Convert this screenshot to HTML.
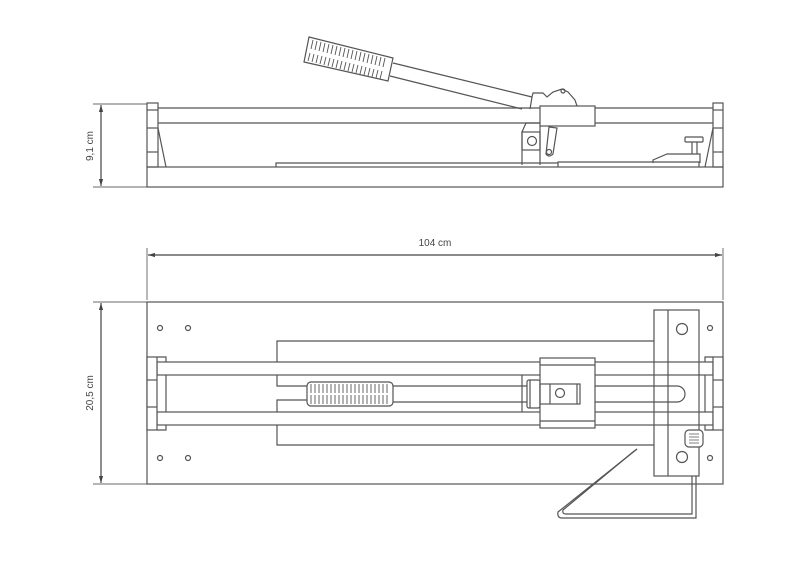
<!DOCTYPE html>
<html><head><meta charset="utf-8"><style>
html,body{margin:0;padding:0;background:#fff}
svg{display:block}
text{font-family:"Liberation Sans",sans-serif;fill:#444;font-size:10px}
</style></head><body>
<svg width="800" height="565" viewBox="0 0 800 565" xmlns="http://www.w3.org/2000/svg">
<defs>
<marker id="a" viewBox="0 0 10 10" refX="10" refY="5" markerWidth="6" markerHeight="6" orient="auto-start-reverse"><path d="M0,2 L10,5 L0,8 z" fill="#444"/></marker>
</defs>
<g fill="none" stroke="#555" stroke-width="1.2">
<line x1="93" y1="104" x2="147" y2="104" stroke="#888"/>
<line x1="93" y1="187" x2="147" y2="187" stroke="#888"/>
<line x1="101" y1="105" x2="101" y2="186" stroke="#444" marker-start="url(#a)" marker-end="url(#a)"/>
<rect x="147" y="167" width="576" height="20"/>
<line x1="158" y1="108" x2="713" y2="108"/>
<line x1="158" y1="123" x2="713" y2="123"/>
<rect x="147" y="103" width="11" height="64"/>
<line x1="147" y1="110" x2="158" y2="110"/>
<line x1="147" y1="128" x2="158" y2="128"/>
<line x1="147" y1="152" x2="158" y2="152"/>
<path d="M158,128 L166,167"/>
<rect x="713" y="103" width="10" height="64"/>
<line x1="713" y1="110" x2="723" y2="110"/>
<line x1="713" y1="128" x2="723" y2="128"/>
<line x1="713" y1="152" x2="723" y2="152"/>
<path d="M713,128 L705,167"/>
<path d="M276,167 L276,163 L558,163"/>
<path d="M558,167 L558,162 L699,162 L699,167"/>
<path d="M653,163 L653,160 L667,154 L700,154 L700,163"/>
<rect x="685" y="137" width="18" height="5" rx="1"/>
<path d="M692,142 L692,154 M697,142 L697,154"/>
<path d="M309,37 L393,58 L388,81 L304,62 Z"/>
<g stroke-width="0.9">
<path d="M313,40 L311,49 M317,41 L315,50 M321,42 L319,51 M325,43 L323,52 M329,44 L327,53 M333,45 L331,54 M337,46 L335,55 M341,47 L339,56 M345,48 L343,57 M349,49 L347,58 M353,50 L351,59 M357,51 L355,60 M361,52 L359,61 M365,53 L363,62 M369,54 L367,63 M373,55 L371,64 M377,56 L375,65 M381,57 L379,66 M385,58 L383,67"/>
<path d="M310,53 L308,61 M314,54 L312,62 M318,55 L316,63 M322,56 L320,64 M326,57 L324,65 M330,58 L328,66 M334,59 L332,67 M338,60 L336,68 M342,61 L340,69 M346,62 L344,70 M350,63 L348,71 M354,64 L352,72 M358,65 L356,73 M362,66 L360,74 M366,67 L364,75 M370,68 L368,76 M374,69 L372,77 M378,70 L376,78 M382,71 L380,79"/>
</g>
<line x1="393" y1="63" x2="532" y2="97"/>
<line x1="390" y1="76" x2="522" y2="109"/>
<path d="M530,109 L532,97 L533,93 L543,93 L547,97 L553,92 L562,89 L568,92 L575,100 L577,106"/>
<circle cx="563" cy="91" r="2"/>
<rect x="540" y="106" width="55" height="20" fill="#fff"/>
<path d="M522,165 L522,132 L526,123 L540,123"/>
<rect x="522" y="132" width="18" height="18"/>
<circle cx="532" cy="141" r="4.5"/>
<line x1="540" y1="126" x2="540" y2="165"/>
<path d="M549,127 L557,128 L553,154 Q549,158 546,154 Z"/>
<circle cx="549" cy="152" r="2.5"/>

<line x1="147" y1="248" x2="147" y2="300" stroke="#888"/>
<line x1="723" y1="248" x2="723" y2="300" stroke="#888"/>
<line x1="148" y1="255" x2="722" y2="255" stroke="#444" marker-start="url(#a)" marker-end="url(#a)"/>
<line x1="93" y1="302" x2="147" y2="302" stroke="#888"/>
<line x1="93" y1="484" x2="147" y2="484" stroke="#888"/>
<line x1="101" y1="303" x2="101" y2="483" stroke="#444" marker-start="url(#a)" marker-end="url(#a)"/>
<rect x="147" y="302" width="576" height="182"/>
<circle cx="160" cy="328" r="2.5"/><circle cx="188" cy="328" r="2.5"/>
<circle cx="160" cy="458" r="2.5"/><circle cx="188" cy="458" r="2.5"/>
<circle cx="710" cy="328" r="2.5"/><circle cx="710" cy="458" r="2.5"/>
<path d="M654,341 L277,341 L277,386 L307,386"/>
<path d="M307,400 L277,400 L277,445 L654,445"/>
<rect x="157" y="362" width="556" height="13" fill="#fff"/>
<rect x="157" y="412" width="556" height="13" fill="#fff"/>
<line x1="166" y1="375" x2="166" y2="412"/>
<line x1="705" y1="375" x2="705" y2="412"/>
<rect x="147" y="357" width="10" height="73" fill="#fff"/>
<line x1="147" y1="380" x2="157" y2="380"/><line x1="147" y1="407" x2="157" y2="407"/>
<path d="M157,357 L166,357 L166,362 M157,430 L166,430 L166,425"/>
<rect x="713" y="357" width="10" height="73" fill="#fff"/>
<line x1="713" y1="380" x2="723" y2="380"/><line x1="713" y1="407" x2="723" y2="407"/>
<path d="M713,357 L705,357 L705,362 M713,430 L705,430 L705,425"/>
<path d="M393,386 L677,386 A8,8 0 0 1 677,402 L393,402"/>
<rect x="307" y="382" width="86" height="24" rx="4" fill="#fff"/>
<g stroke-width="0.9">
<path d="M311,384v9M315,384v9M319,384v9M323,384v9M327,384v9M331,384v9M335,384v9M339,384v9M343,384v9M347,384v9M351,384v9M355,384v9M359,384v9M363,384v9M367,384v9M371,384v9M375,384v9M379,384v9M383,384v9M387,384v9"/>
<path d="M311,395v9M315,395v9M319,395v9M323,395v9M327,395v9M331,395v9M335,395v9M339,395v9M343,395v9M347,395v9M351,395v9M355,395v9M359,395v9M363,395v9M367,395v9M371,395v9M375,395v9M379,395v9M383,395v9M387,395v9"/>
</g>
<path d="M522,375 L522,412"/>
<rect x="527" y="380" width="13" height="28" rx="2" fill="#fff"/>
<line x1="530" y1="380" x2="530" y2="408"/>
<rect x="540" y="358" width="55" height="70" fill="#fff"/>
<line x1="540" y1="365" x2="595" y2="365"/>
<line x1="540" y1="421" x2="595" y2="421"/>
<rect x="540" y="384" width="40" height="20"/>
<line x1="550" y1="384" x2="550" y2="404"/>
<line x1="577" y1="384" x2="577" y2="404"/>
<circle cx="560" cy="393" r="4.5"/>
<rect x="654" y="310" width="45" height="166" fill="none"/>
<line x1="668" y1="310" x2="668" y2="476"/>
<circle cx="682" cy="329" r="5.5"/>
<circle cx="682" cy="457" r="5.5"/>
<rect x="685" y="430" width="18" height="17" rx="4" fill="#fff"/>
<path d="M689,434h10M689,437h10M689,440h10M689,443h10" stroke-width="0.8"/>
<path d="M637,449 L558,512 Q557,518 562,518 L696,518 L696,476"/>
<path d="M633,452 L563,510 Q562,514 566,514 L692,514 L692,476"/>
<line x1="633" y1="452" x2="637" y2="449"/>
</g>
<text x="0" y="0" transform="translate(93,146) rotate(-90)" text-anchor="middle">9,1 cm</text>
<text x="0" y="0" transform="translate(93,393) rotate(-90)" text-anchor="middle">20,5 cm</text>
<text x="435" y="246" text-anchor="middle">104 cm</text>
</svg>
</body></html>
